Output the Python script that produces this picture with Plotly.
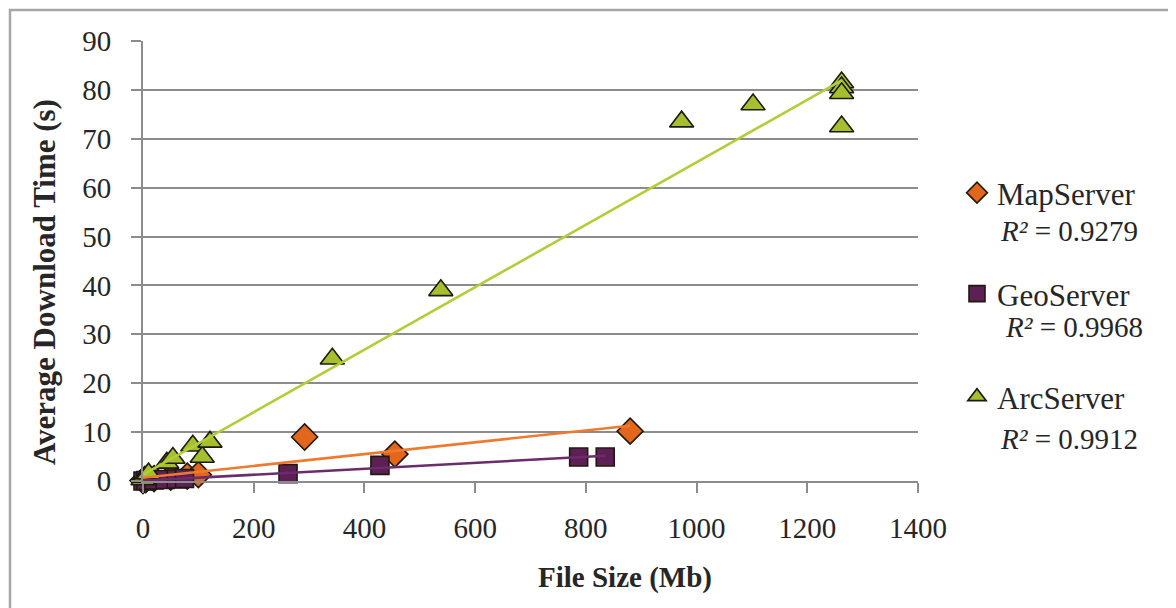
import numpy as np
import plotly.graph_objects as go

# ---- data ----
map_x = [0, 5, 20, 50, 80, 100, 292, 455, 880]
map_y = [0.1, 0.3, 0.5, 0.8, 1.0, 1.3, 9.0, 5.5, 10.2]

geo_x = [0, 5, 20, 40, 60, 75, 262, 428, 787, 835]
geo_y = [0.0, 0.1, 0.2, 0.3, 0.4, 0.5, 1.5, 3.2, 4.9, 4.9]

arc_x = [0, 3, 10, 43, 54, 90, 107, 121, 342, 538, 973, 1102, 1262, 1262, 1262, 1262]
arc_y = [0.3, 0.8, 1.5, 3.7, 4.7, 7.2, 4.9, 8.0, 25, 39, 73.5, 77, 81.5, 80.5, 79.3, 72.5]

series_names = ["MapServer", "GeoServer", "ArcServer"]
r2_labels = ["0.9279", "0.9968", "0.9912"]

x_ticks = [0, 200, 400, 600, 800, 1000, 1200, 1400]
y_ticks = [0, 10, 20, 30, 40, 50, 60, 70, 80, 90]

# ---- styling ----
FONT = "Liberation Serif"
TXT = "#262626"
GRID = "#8c8c8c"
fill_cols = ["#E2661C", "#5E1F55", "#A6BF2E"]
line_cols = ["#EE7A2E", "#6B2C6B", "#AFCF3A"]
symbols = ["diamond", "square", "triangle-up"]
sizes = [20, 18, 21]

# screen geometry (page has an 8px body offset)
OFF = 8
W, H = 1176, 608
L, R, T, B = 143, 918, 41, 481   # plot area on screen
pw, ph = R - L, B - T


def px(xp):
    return (xp - L) / pw


def py(yp):
    return (B - yp) / ph


fig = go.Figure()
data = [(map_x, map_y), (geo_x, geo_y), (arc_x, arc_y)]
legends = ["legend", "legend2", "legend3"]

for i, (xs, ys) in enumerate(data):
    fig.add_trace(go.Scatter(
        x=xs, y=ys, mode="markers", name=series_names[i],
        legend=legends[i], cliponaxis=False,
        marker=dict(symbol=symbols[i], size=sizes[i], color=fill_cols[i],
                    line=dict(color="#1e1a10", width=1.6)),
    ))

for i, (xs, ys) in enumerate(data):
    k, b0 = np.polyfit(np.array(xs, float), np.array(ys, float), 1)
    xx = np.array([min(xs), max(xs)], float)
    fig.add_trace(go.Scatter(
        x=xx, y=k * xx + b0, mode="lines", showlegend=False,
        line=dict(color=line_cols[i], width=2.6), hoverinfo="skip",
        cliponaxis=False,
    ))

leg_y = [193, 294, 397]
legend_common = dict(
    x=px(957), xanchor="left", yanchor="middle",
    bgcolor="rgba(0,0,0,0)", borderwidth=0,
    font=dict(family=FONT, size=31, color=TXT),
    itemsizing="trace",
)
fig.update_layout(
    legend=dict(y=py(leg_y[0]), **legend_common),
    legend2=dict(y=py(leg_y[1]), **legend_common),
    legend3=dict(y=py(leg_y[2]), **legend_common),
)

r2_pos = [(998, 231), (1003, 327), (998, 439)]
annotations = []
for (ax_, ay_), lab in zip(r2_pos, r2_labels):
    annotations.append(dict(
        x=px(ax_), y=py(ay_), xref="paper", yref="paper",
        xanchor="left", yanchor="middle", showarrow=False,
        text="<i>R²</i> = " + lab,
        font=dict(family=FONT, size=29, color=TXT),
    ))

annotations.append(dict(
    x=px(44), y=py(282), xref="paper", yref="paper", textangle=-90,
    xanchor="center", yanchor="middle", showarrow=False,
    text="<b>Average Download Time (s)</b>",
    font=dict(family=FONT, size=31, color=TXT),
))
annotations.append(dict(
    x=px(625), y=py(577), xref="paper", yref="paper",
    xanchor="center", yanchor="middle", showarrow=False,
    text="<b>File Size (Mb)</b>",
    font=dict(family=FONT, size=29, color=TXT),
))

fig.update_layout(
    width=W, height=H,
    margin=dict(l=L - OFF, r=W - (R - OFF), t=T - OFF, b=H - (B - OFF)),
    paper_bgcolor="white", plot_bgcolor="white",
    annotations=annotations,
    shapes=[dict(type="rect", xref="paper", yref="paper",
                 x0=px(10), x1=px(1200), y0=py(640), y1=py(10),
                 line=dict(color="#a6a6a6", width=2.5), layer="below")],
    xaxis=dict(
        range=[0, 1400], tickvals=x_ticks, ticktext=[str(v) for v in x_ticks],
        showgrid=False, zeroline=False, showline=True, linecolor=GRID, linewidth=2,
        ticks="outside", ticklen=10, tickwidth=2, tickcolor=GRID,
        ticklabelstandoff=10,
        tickfont=dict(family=FONT, size=29, color=TXT),
    ),
    yaxis=dict(
        range=[0, 90], tickvals=y_ticks, ticktext=[str(v) for v in y_ticks],
        showgrid=True, gridcolor=GRID, gridwidth=2, zeroline=False,
        showline=True, linecolor=GRID, linewidth=2,
        ticks="outside", ticklen=10, tickwidth=2, tickcolor=GRID,
        ticklabelstandoff=14,
        tickfont=dict(family=FONT, size=29, color=TXT),
    ),
)

fig.write_html("out.html")
